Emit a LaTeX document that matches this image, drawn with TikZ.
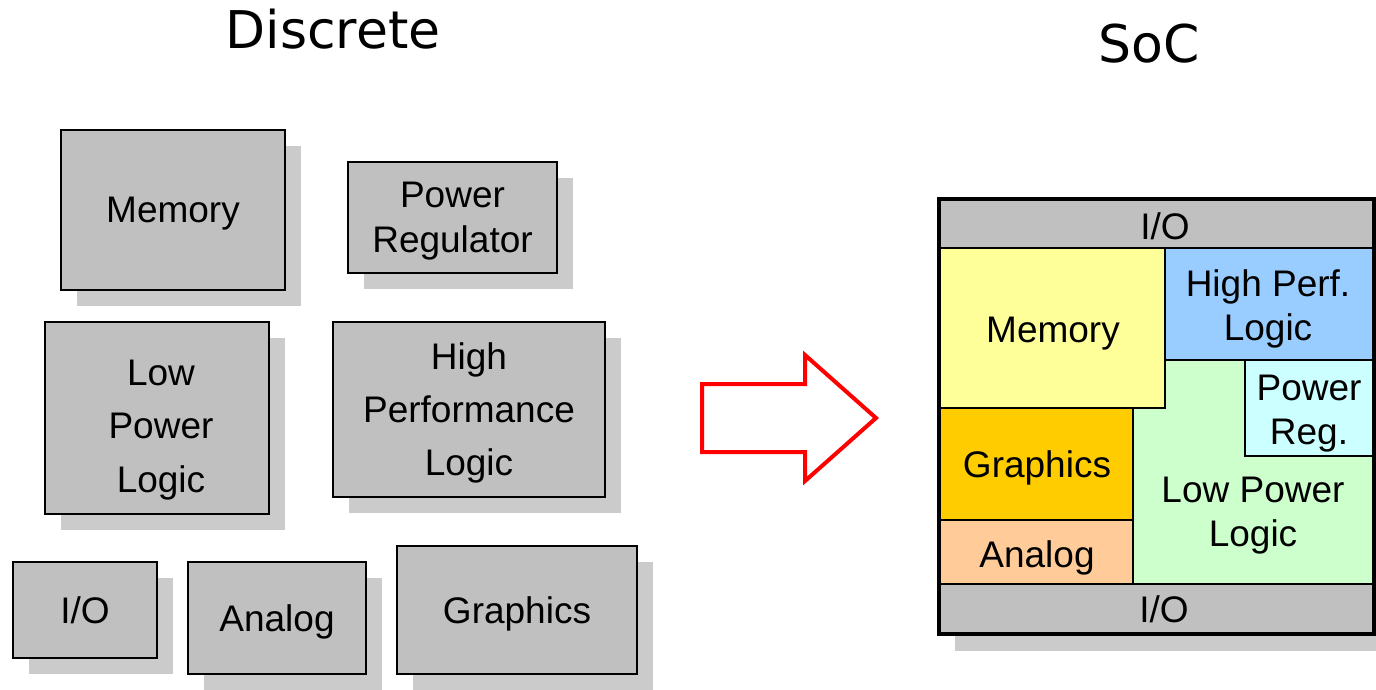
\documentclass[tikz,border=0pt]{standalone}
\usepackage{fontspec}
\setmainfont{Liberation Sans}
\newfontfamily\titlefont{DejaVu Sans}
\usetikzlibrary{shadows}
\definecolor{boxgray}{HTML}{C0C0C0}
\definecolor{shadowgray}{HTML}{CBCBCB}
\definecolor{memyellow}{HTML}{FFFF99}
\definecolor{hpblue}{HTML}{99CCFF}
\definecolor{prcyan}{HTML}{CCFFFF}
\definecolor{gforange}{HTML}{FFCC00}
\definecolor{anpeach}{HTML}{FFCC99}
\definecolor{lpgreen}{HTML}{CCFFCC}
\tikzset{
  dbox/.style={draw=black, line width=2.6pt, fill=boxgray, inner sep=0pt,
    align=center, font=\fontsize{37}{53}\selectfont, text depth=0pt,
    drop shadow={shadow xshift=16pt, shadow yshift=-16pt, fill=shadowgray, opacity=1}},
  socpart/.style={draw=black, line width=2pt, inner sep=0pt},
  soctext/.style={align=center, font=\fontsize{37}{44.5}\selectfont, inner sep=0pt, text depth=0pt},
  title/.style={font=\titlefont\fontsize{52}{60}\selectfont, inner sep=0pt}
}
\begin{document}
\begin{tikzpicture}[x=1pt, y=-1pt]
\useasboundingbox (0,0) rectangle (1376,689);
% titles
\node[title] (tdisc) at (333,29) {Discrete};
\node[title] (tsoc) at (1149,44) {SoC};
% discrete boxes
\node[dbox, minimum width=224, minimum height=160] (mem) at (173,210) {Memory};
\node[dbox, minimum width=209, minimum height=111, font=\fontsize{37}{45}\selectfont] (preg) at (452.5,217.5) {Power\\Regulator};
\node[dbox, minimum width=224, minimum height=192] (lpl) at (157,418) {};
\node[align=center, font=\fontsize{37}{53.5}\selectfont, inner sep=0pt, text depth=0pt] (lpltext) at (161,426) {Low\\Power\\Logic};
\node[dbox, minimum width=272, minimum height=175] (hpl) at (469,409.5) {High\\Performance\\Logic};
\node[dbox, minimum width=144, minimum height=96] (io) at (85,610) {I/O};
\node[dbox, minimum width=178, minimum height=112] (ana) at (277,618) {Analog};
\node[dbox, minimum width=240, minimum height=128] (gfx) at (517,610) {Graphics};
% arrow
\draw[red, line width=4pt, line join=miter] (702,384) -- (805,384) -- (805,355) -- (876,418) -- (805,481) -- (805,452) -- (702,452) -- cycle;
% SoC
\node[draw=black, line width=2.6pt, fill=boxgray, minimum width=433, minimum height=433, inner sep=0pt,
  drop shadow={shadow xshift=15pt, shadow yshift=-18pt, fill=shadowgray, opacity=1}] (soc) at (1156.5,416.5) {};
\node[socpart, fill=boxgray, minimum width=433, minimum height=48] (iotop) at (1156.5,224) {};
\node[socpart, fill=boxgray, minimum width=433, minimum height=49] (iobot) at (1156.5,608.5) {};
\node[socpart, fill=lpgreen, minimum width=240, minimum height=224] (slp) at (1253,472) {};
\node[socpart, fill=memyellow, minimum width=225, minimum height=160] (smem) at (1052.5,328) {};
\node[socpart, fill=hpblue, minimum width=208, minimum height=112] (shp) at (1269,304) {};
\node[socpart, fill=prcyan, minimum width=128, minimum height=96] (spr) at (1309,408) {};
\node[socpart, fill=gforange, minimum width=193, minimum height=112] (sgfx) at (1036.5,464) {};
\node[socpart, fill=anpeach, minimum width=193, minimum height=64] (sana) at (1036.5,552) {};
\draw[black, line width=2.6pt] (soc.north west) rectangle (soc.south east);
% SoC labels
\node[soctext] (tiotop) at (1165,226) {I/O};
\node[soctext] (tiobot) at (1164,609) {I/O};
\node[soctext] (tmem) at (1053,330) {Memory};
\node[soctext] (thp) at (1268,305) {High Perf.\\Logic};
\node[soctext] (tpr) at (1309,410) {Power\\Reg.};
\node[soctext] (tgfx) at (1037,464) {Graphics};
\node[soctext] (tana) at (1037,554) {Analog};
\node[soctext] (tlp) at (1253,512) {Low Power\\Logic};
\end{tikzpicture}
\end{document}
